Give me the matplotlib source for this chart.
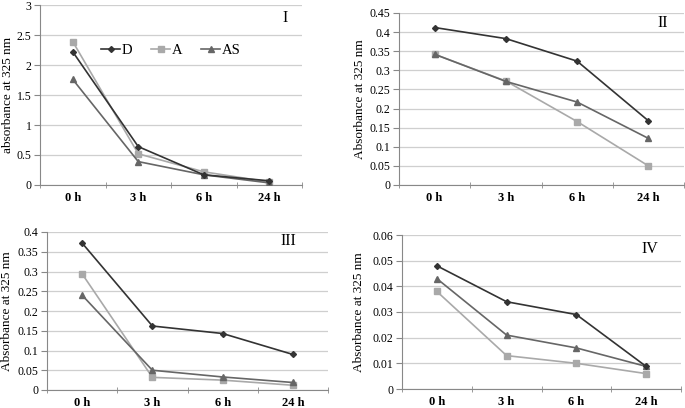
import matplotlib
matplotlib.use("Agg")
import matplotlib.pyplot as plt
import numpy as np

plt.rcParams['font.family'] = ['Liberation Serif', 'DejaVu Serif']

times = ['0 h', '3 h', '6 h', '24 h']

# panel I
d1 = [2.22, 0.64, 0.17, 0.07]
a1 = [2.39, 0.52, 0.22, 0.05]
as1 = [1.76, 0.39, 0.17, 0.035]
# panel II
d2 = [0.412, 0.383, 0.324, 0.168]
a2 = [0.342, 0.272, 0.166, 0.05]
as2 = [0.342, 0.271, 0.217, 0.122]
# panel III
d3 = [0.372, 0.162, 0.143, 0.09]
a3 = [0.294, 0.032, 0.025, 0.012]
as3 = [0.24, 0.05, 0.033, 0.019]
# panel IV
d4 = [0.048, 0.034, 0.029, 0.0088]
a4 = [0.038, 0.013, 0.010, 0.006]
as4 = [0.043, 0.021, 0.016, 0.0088]

W, H = 685, 408
fig = plt.figure(figsize=(W / 100, H / 100), dpi=100)


def make_ax(left, right, top, bottom):
    return fig.add_axes([left / W, 1 - bottom / H, (right - left) / W, (bottom - top) / H])


def draw_panel(ax, d, a, s, ymax, ystep, ylabel, labx, numeral, nx, ny, yfmt):
    x = np.arange(len(times))
    ax.plot(x, a, color='#a9a9a9', marker='s', ms=4, lw=1.2, label='A', zorder=3)
    ax.plot(x, s, color='#666666', marker='^', ms=4, lw=1.2, label='AS', zorder=4)
    ax.plot(x, d, color='#333333', marker='D', ms=3, lw=1.2, label='D', zorder=5)
    ax.set_xlim(-0.5, len(times) - 0.5)
    ax.set_ylim(0, ymax)
    yt = np.arange(0, ymax + ystep / 2, ystep)
    ax.set_yticks(yt)
    ax.set_yticklabels([yfmt(v) for v in yt])
    ax.yaxis.grid(True, color='#cfcfcf', lw=0.9)
    ax.set_axisbelow(True)
    ax.set_xticks(x)
    ax.set_xticklabels(times, fontweight='bold')
    ax.set_xticks(np.arange(-0.5, len(times)), minor=True)
    ax.tick_params(axis='x', which='major', length=0, pad=5, labelsize=9)
    ax.tick_params(axis='x', which='minor', length=5, direction='inout', color='#888888')
    ax.tick_params(axis='y', length=4, color='#888888', labelsize=8.5, pad=2)
    for sp in ['top', 'right']:
        ax.spines[sp].set_visible(False)
    for sp in ['left', 'bottom']:
        ax.spines[sp].set_color('#888888')
    ax.set_ylabel(ylabel, fontsize=9.5, va='center')
    ax.yaxis.set_label_coords(labx, 0.5)
    ax.text(nx, ny, numeral, transform=ax.transAxes, fontsize=11.5, ha='center', va='center')


def fmt_g(v):
    return '{:g}'.format(round(v, 4))


ax1 = make_ax(40, 302, 5, 185)
draw_panel(ax1, d1, a1, as1, 3, 0.5, 'absorbance at 325 nm', -0.122, 'I', 0.937, 0.93, fmt_g)
h, l = ax1.get_legend_handles_labels()
order = [2, 0, 1]
ax1.legend([h[i] for i in order], [l[i] for i in order], ncol=3, frameon=False,
           loc='center', bbox_to_anchor=(0.5, 0.75), handlelength=1.3,
           handletextpad=0.1, columnspacing=1.3, fontsize=10.5)

ax2 = make_ax(399, 684, 13, 185)
draw_panel(ax2, d2, a2, as2, 0.45, 0.05, 'Absorbance at 325 nm', -0.137, 'II', 0.925, 0.94, fmt_g)

ax3 = make_ax(47, 328, 232, 390)
draw_panel(ax3, d3, a3, as3, 0.4, 0.05, 'Absorbance at 325 nm', -0.142, 'III', 0.86, 0.94, fmt_g)

ax4 = make_ax(402, 681, 235, 389)
draw_panel(ax4, d4, a4, as4, 0.06, 0.01, 'Absorbance at 325 nm', -0.154, 'IV', 0.89, 0.91,
           lambda v: '0' if v == 0 else '{:.2f}'.format(v))

fig.savefig('out.png', dpi=100)
